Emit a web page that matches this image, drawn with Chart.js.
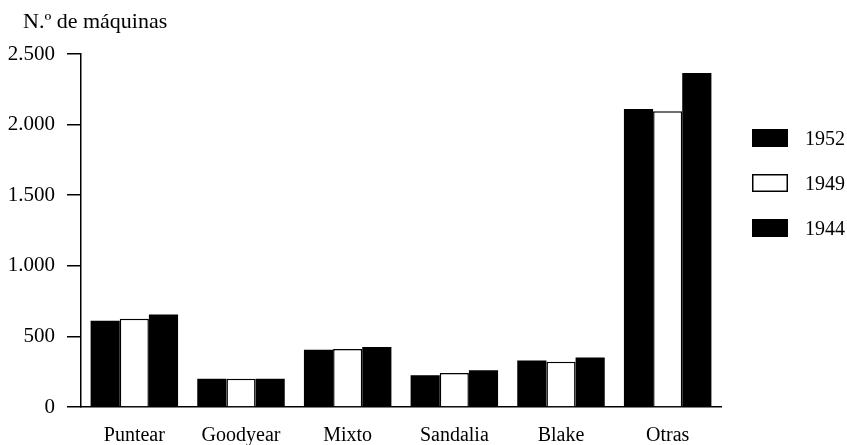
<!DOCTYPE html>
<html>
<head>
<meta charset="utf-8">
<script src="https://cdn.jsdelivr.net/npm/chart.js@4.4.1/dist/chart.umd.min.js"></script>
<style>
  html, body { margin: 0; padding: 0; background: #fff; }
  #wrap { width: 847px; height: 445px; position: relative; }
</style>
</head>
<body>
<div id="wrap"><canvas id="chart"></canvas></div>
<script>
// datos
const categories = ["Puntear", "Goodyear", "Mixto", "Sandalia", "Blake", "Otras"];
const years = ["1952", "1949", "1944"];
const values1952 = [610, 200, 405, 225, 330, 2110];
const values1949 = [625, 200, 410, 240, 320, 2095];
const values1944 = [655, 200, 425, 260, 350, 2365];
const yTicks = [0, 500, 1000, 1500, 2000, 2500];
const yTitle = "N.º de máquinas";

const FONT = "'Liberation Serif', 'DejaVu Serif', serif";

function fmt(v) {
    return String(v).replace(/\B(?=(\d{3})+(?!\d))/g, ".");
}

// título y leyenda dibujados a mano
const decor = {
    id: "decor",
    afterDraw(chart) {
        const ctx = chart.ctx;
        ctx.save();
        ctx.fillStyle = "#000";
        ctx.font = `22px ${FONT}`;
        ctx.textBaseline = "middle";
        ctx.textAlign = "left";
        ctx.fillText(yTitle, 23, 22);

        ctx.font = `20px ${FONT}`;
        chart.data.datasets.forEach((ds, i) => {
            const x = 752, y = 129 + 45 * i;
            ctx.fillStyle = ds.backgroundColor;
            ctx.fillRect(x, y, 36, 18);
            if (ds.borderWidth) {
                ctx.lineWidth = 1.5;
                ctx.strokeStyle = "#000";
                ctx.strokeRect(x + 0.75, y + 0.75, 34.5, 16.5);
            }
            ctx.fillStyle = "#000";
            ctx.fillText(ds.label, 805, y + 11);
        });
        ctx.restore();
    }
};

new Chart(document.getElementById("chart"), {
    type: "bar",
    data: {
        labels: categories,
        datasets: [
            { label: years[0], data: values1952, backgroundColor: "#000", borderWidth: 0 },
            { label: years[1], data: values1949, backgroundColor: "#fff", borderColor: "#000", borderWidth: 1.5 },
            { label: years[2], data: values1944, backgroundColor: "#000", borderWidth: 0 },
        ],
    },
    options: {
        responsive: true,
        maintainAspectRatio: false,
        animation: false,
        categoryPercentage: 0.82,
        barPercentage: 1.0,
        layout: { padding: { left: 0, top: 54, right: 126, bottom: 0 } },
        plugins: { legend: { display: false }, tooltip: { enabled: false } },
        scales: {
            x: {
                grid: { display: false },
                border: { display: true, color: "#000", width: 1.5 },
                ticks: { color: "#000", font: { family: FONT, size: 20 }, padding: 9 },
                afterFit: s => { s.height = 38; },
            },
            y: {
                min: 0,
                max: 2500,
                afterBuildTicks: s => { s.ticks = yTicks.map(v => ({ value: v })); },
                grid: { display: true, drawOnChartArea: false, drawTicks: true, tickLength: 14, color: "#000", lineWidth: 1.5 },
                border: { display: true, color: "#000", width: 1.5 },
                ticks: { color: "#000", font: { family: FONT, size: 21 }, padding: 12, callback: v => fmt(v) },
                afterFit: s => { s.width = 81; },
            },
        },
    },
    plugins: [decor],
});
</script>
</body>
</html>
